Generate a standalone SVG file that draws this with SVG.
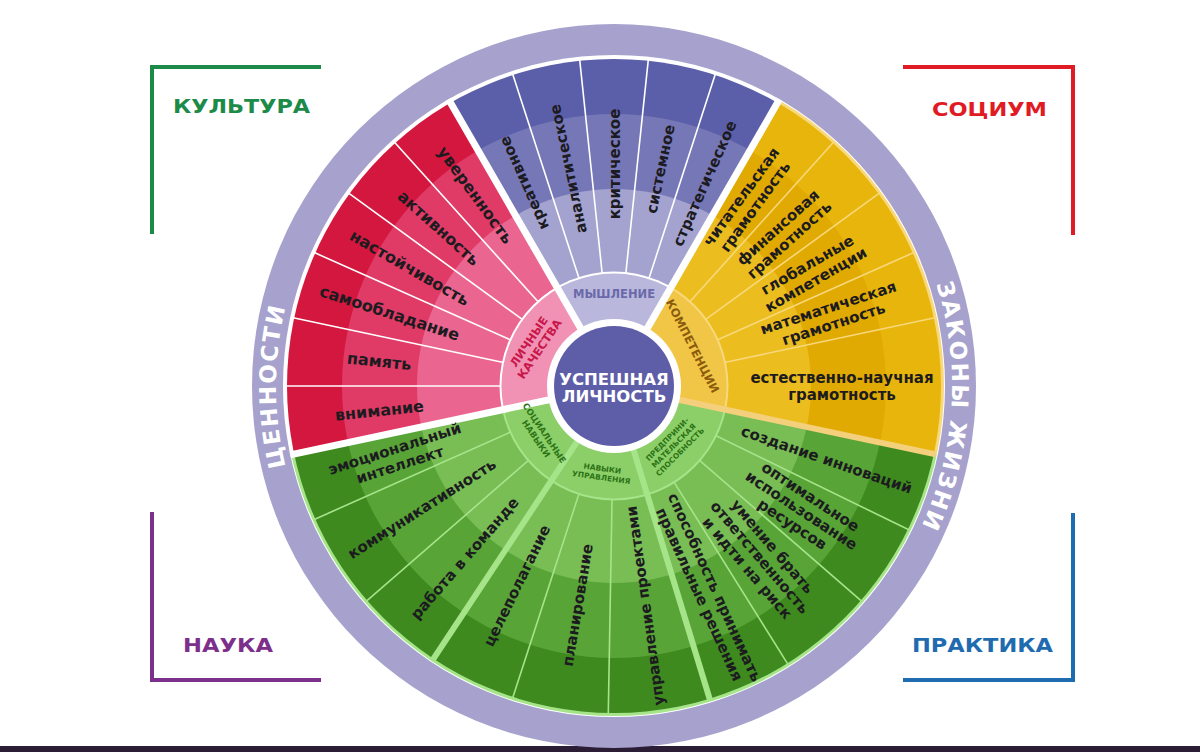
<svg xmlns="http://www.w3.org/2000/svg" width="1200" height="752" viewBox="0 0 1200 752">
<defs>
<style>
.it{font-family:"DejaVu Sans","Liberation Sans",sans-serif;font-weight:bold;fill:#1c1b1f;text-anchor:middle;font-size:15px}
.rd{font-size:16px}
.cat{font-family:"DejaVu Sans","Liberation Sans",sans-serif;font-weight:bold;text-anchor:middle}
.ring{font-family:"DejaVu Sans","Liberation Sans",sans-serif;font-weight:bold;fill:#ffffff;font-size:23px;letter-spacing:2px;text-anchor:middle}
.corner{font-family:"DejaVu Sans","Liberation Sans",sans-serif;font-weight:bold;font-size:20px}
.br{fill:none;stroke-width:4}
.sw{stroke:#ffffff;stroke-width:1.6}
.sy{stroke:#f7d87c;stroke-width:1.6}
.sg{stroke:#a6e48a;stroke-width:1.6}
</style>
<clipPath id="cRed"><polygon points="0,0 -410.8,87.3 -417.7,-43.9 -383.7,-170.8 -312.1,-281 -210,-363.7"/></clipPath>
<clipPath id="cPur"><polygon points="0,0 -210,-363.7 -72.9,-413.6 72.9,-413.6 210,-363.7"/></clipPath>
<clipPath id="cYel"><polygon points="0,0 210,-363.7 312.1,-281 383.7,-170.8 417.7,-43.9 410.8,87.3"/></clipPath>
<clipPath id="cGrn"><polygon points="0,0 410.8,87.3 339.8,246.9 210,363.7 0,420 -210,363.7 -339.8,246.9 -410.8,87.3"/></clipPath>
<path id="arcL" d="M 614 724 A 338 338 0 0 1 614 48"/>
<path id="arcR" d="M 614 48 A 338 338 0 0 1 614 724"/>
</defs>
<rect width="1200" height="752" fill="#ffffff"/>
<rect y="746" width="1200" height="6" fill="#2a1d35"/>

<g id="corner-kultura">
<path class="br" stroke="#1c8a48" d="M 321 67 H 152 V 234"/>
<text class="corner" x="173" y="113" fill="#1c8a48" textLength="137" lengthAdjust="spacingAndGlyphs">КУЛЬТУРА</text>
</g>
<g id="corner-socium">
<path class="br" stroke="#e01b24" d="M 903 67 H 1073 V 235"/>
<text class="corner" x="932" y="116" fill="#e01b24" textLength="115" lengthAdjust="spacingAndGlyphs">СОЦИУМ</text>
</g>
<g id="corner-nauka">
<path class="br" stroke="#7d2f8c" d="M 152 512 V 680 H 321"/>
<text class="corner" x="183" y="652" fill="#7d2f8c" textLength="90" lengthAdjust="spacingAndGlyphs">НАУКА</text>
</g>
<g id="corner-praktika">
<path class="br" stroke="#1f6bb0" d="M 903 680 H 1073 V 513"/>
<text class="corner" x="912" y="652" fill="#1f6bb0" textLength="141" lengthAdjust="spacingAndGlyphs">ПРАКТИКА</text>
</g>

<g id="outer-ring">
<circle cx="614" cy="386" r="362" fill="#a6a2cd"/>
<circle cx="614" cy="386" r="331" fill="#ffffff"/>
<text class="ring"><textPath href="#arcL" startOffset="50%">ЦЕННОСТИ</textPath></text>
<text class="ring"><textPath href="#arcR" startOffset="52%">ЗАКОНЫ ЖИЗНИ</textPath></text>
</g>

<g transform="translate(614,386)">
<g id="sector-lichnye" clip-path="url(#cRed)">
<circle r="330" fill="#ffffff"/>
<circle r="327" fill="#d3173f"/>
<circle r="272" fill="#e03a66"/>
<circle r="197" fill="#ea6690"/>
<circle r="114.5" fill="#ffffff"/>
<circle r="112.5" fill="#f192b4"/>
<g class="sw">
<line x1="113" x2="328" transform="rotate(180)"/>
<line x1="113" x2="328" transform="rotate(192)"/>
<line x1="113" x2="328" transform="rotate(204)"/>
<line x1="113" x2="328" transform="rotate(216)"/>
<line x1="113" x2="328" transform="rotate(228)"/>
</g>
</g>
<g id="sector-myshlenie" clip-path="url(#cPur)">
<circle r="330" fill="#ffffff"/>
<circle r="327" fill="#5b5ea8"/>
<circle r="272" fill="#7677b7"/>
<circle r="197" fill="#a4a3d0"/>
<circle r="114.5" fill="#ffffff"/>
<circle r="112.5" fill="#b9b8dc"/>
<g class="sw">
<line x1="113" x2="328" transform="rotate(252)"/>
<line x1="113" x2="328" transform="rotate(264)"/>
<line x1="113" x2="328" transform="rotate(276)"/>
<line x1="113" x2="328" transform="rotate(288)"/>
</g>
</g>
<g id="sector-kompetencii" clip-path="url(#cYel)">
<circle r="330" fill="#f7d87c"/>
<circle r="327" fill="#e8b50c"/>
<circle r="272" fill="#e1aa03"/>
<circle r="197" fill="#ecbd1e"/>
<circle r="114.5" fill="#f7d87c"/>
<circle r="112.5" fill="#f1c646"/>
<g class="sy">
<line x1="113" x2="328" transform="rotate(-48)"/>
<line x1="113" x2="328" transform="rotate(-36)"/>
<line x1="113" x2="328" transform="rotate(-24)"/>
<line x1="113" x2="328" transform="rotate(-12)"/>
</g>
</g>
<g id="sector-navyki" clip-path="url(#cGrn)">
<circle r="330" fill="#a6e48a"/>
<circle r="327" fill="#3e8a1f"/>
<circle r="272" fill="#58a437"/>
<circle r="197" fill="#79bd55"/>
<circle r="114.5" fill="#a6e48a"/>
<circle r="112.5" fill="#8ccf68"/>
<g class="sg">
<line x1="113" x2="328" transform="rotate(156)"/>
<line x1="113" x2="328" transform="rotate(139)"/>
<line x1="113" x2="328" transform="rotate(108)"/>
<line x1="113" x2="328" transform="rotate(91)"/>
<line x1="113" x2="328" transform="rotate(58)"/>
<line x1="113" x2="328" transform="rotate(41)"/>
<line x1="113" x2="328" transform="rotate(26)"/>
</g>
</g>

<g id="dividers">
<line x1="0" x2="331" transform="rotate(168)" stroke="#ffffff" stroke-width="7"/>
<line x1="0" x2="331" transform="rotate(240)" stroke="#ffffff" stroke-width="7"/>
<line x1="0" x2="331" transform="rotate(300)" stroke="#ffffff" stroke-width="7"/>
<line x1="0" x2="329" transform="rotate(12)" stroke="#f5d07c" stroke-width="6"/>
<line x1="0" x2="329" transform="rotate(73)" stroke="#a6e48a" stroke-width="6"/>
<line x1="0" x2="329" transform="rotate(123.5)" stroke="#a6e48a" stroke-width="6"/>
</g>

<g id="center">
<circle r="67" fill="#ffffff"/>
<circle r="60" fill="#5e5da8"/>
<text class="cat" font-size="16.5" fill="#ffffff" y="-1">УСПЕШНАЯ</text>
<text class="cat" font-size="16.5" fill="#ffffff" y="16">ЛИЧНОСТЬ</text>
</g>

<g id="labels-lichnye">
<text class="cat" font-size="11.5" fill="#c8174a" transform="rotate(207) translate(90,0) rotate(97)"><tspan x="0" y="-2">ЛИЧНЫЕ</tspan><tspan x="0" y="11">КАЧЕСТВА</tspan></text>
<text class="it rd" transform="rotate(234) translate(236,0) rotate(180)" y="5.5">уверенность</text>
<text class="it rd" transform="rotate(222) translate(236,0) rotate(180)" y="5.5">активность</text>
<text class="it rd" transform="rotate(210) translate(236,0) rotate(180)" y="5.5">настойчивость</text>
<text class="it rd" transform="rotate(198) translate(236,0) rotate(180)" y="5.5">самообладание</text>
<text class="it rd" transform="rotate(186) translate(236,0) rotate(180)" y="5.5">память</text>
<text class="it rd" transform="rotate(174) translate(236,0) rotate(180)" y="5.5">внимание</text>
</g>

<g id="labels-myshlenie">
<text class="cat" font-size="11.5" fill="#6b69aa" y="-88">МЫШЛЕНИЕ</text>
<text class="it" transform="rotate(-114) translate(222,0)" y="5.5">креативное</text>
<text class="it" transform="rotate(-102) translate(222,0)" y="5.5">аналитическое</text>
<text class="it" transform="rotate(-90) translate(222,0)" y="5.5">критическое</text>
<text class="it" transform="rotate(-78) translate(222,0)" y="5.5">системное</text>
<text class="it" transform="rotate(-66) translate(222,0)" y="5.5">стратегическое</text>
</g>

<g id="labels-kompetencii">
<text class="cat" font-size="11.5" fill="#8a5b0c" transform="rotate(-27) translate(88,0) rotate(90)" y="4">КОМПЕТЕНЦИИ</text>
<text class="it" transform="rotate(-54) translate(228,0)"><tspan x="0" y="-3">читательская</tspan><tspan x="0" y="14">грамотность</tspan></text>
<text class="it" transform="rotate(-42) translate(228,0)"><tspan x="0" y="-3">финансовая</tspan><tspan x="0" y="14">грамотность</tspan></text>
<text class="it" transform="rotate(-30) translate(228,0)"><tspan x="0" y="-3">глобальные</tspan><tspan x="0" y="14">компетенции</tspan></text>
<text class="it" transform="rotate(-18) translate(228,0)"><tspan x="0" y="-3">математическая</tspan><tspan x="0" y="14">грамотность</tspan></text>
<text class="it" transform="rotate(0) translate(228,0)"><tspan x="0" y="-3">естественно-научная</tspan><tspan x="0" y="14">грамотность</tspan></text>
</g>

<g id="labels-socialnye">
<text class="cat" font-size="8.5" fill="#2d7317" transform="rotate(146) translate(88,0) rotate(-90)"><tspan x="0" y="-1">СОЦИАЛЬНЫЕ</tspan><tspan x="0" y="9">НАВЫКИ</tspan></text>
<text class="it" transform="rotate(162) translate(228,0) rotate(180)"><tspan x="0" y="-3">эмоциональный</tspan><tspan x="0" y="14">интеллект</tspan></text>
<text class="it" transform="rotate(147.5) translate(228,0) rotate(180)" y="5.5">коммуникативность</text>
<text class="it" transform="rotate(131) translate(228,0) rotate(180)" y="5.5">работа в команде</text>
</g>

<g id="labels-upravlenie">
<text class="cat" font-size="7.5" fill="#2d7317" transform="rotate(98) translate(87,0) rotate(-90)"><tspan x="0" y="-1">НАВЫКИ</tspan><tspan x="0" y="8">УПРАВЛЕНИЯ</tspan></text>
<text class="it" transform="rotate(116) translate(222,0) rotate(180)" y="5.5">целеполагание</text>
<text class="it" transform="rotate(99.5) translate(222,0) rotate(180)" y="5.5">планирование</text>
<text class="it" transform="rotate(82) translate(222,0) rotate(180)" y="5.5">управление проектами</text>
</g>

<g id="labels-predprinimatelskaya">
<text class="cat" font-size="7.5" fill="#2d7317" transform="rotate(45) translate(84,0) rotate(-90)"><tspan x="0" y="-6">ПРЕДПРИНИ-</tspan><tspan x="0" y="3">МАТЕЛЬСКАЯ</tspan><tspan x="0" y="12">СПОСОБНОСТЬ</tspan></text>
<text class="it" transform="rotate(65.5) translate(225,0)"><tspan x="0" y="-3">способность принимать</tspan><tspan x="0" y="14">правильные решения</tspan></text>
<text class="it" transform="rotate(49.5) translate(225,0)"><tspan x="0" y="-11">умение брать</tspan><tspan x="0" y="5.5">ответственность</tspan><tspan x="0" y="22">и идти на риск</tspan></text>
<text class="it" transform="rotate(33.5) translate(225,0)"><tspan x="0" y="-11">оптимальное</tspan><tspan x="0" y="5.5">использование</tspan><tspan x="0" y="22">ресурсов</tspan></text>
<text class="it" transform="rotate(19) translate(225,0)" y="5.5">создание инноваций</text>
</g>
</g>
</svg>
